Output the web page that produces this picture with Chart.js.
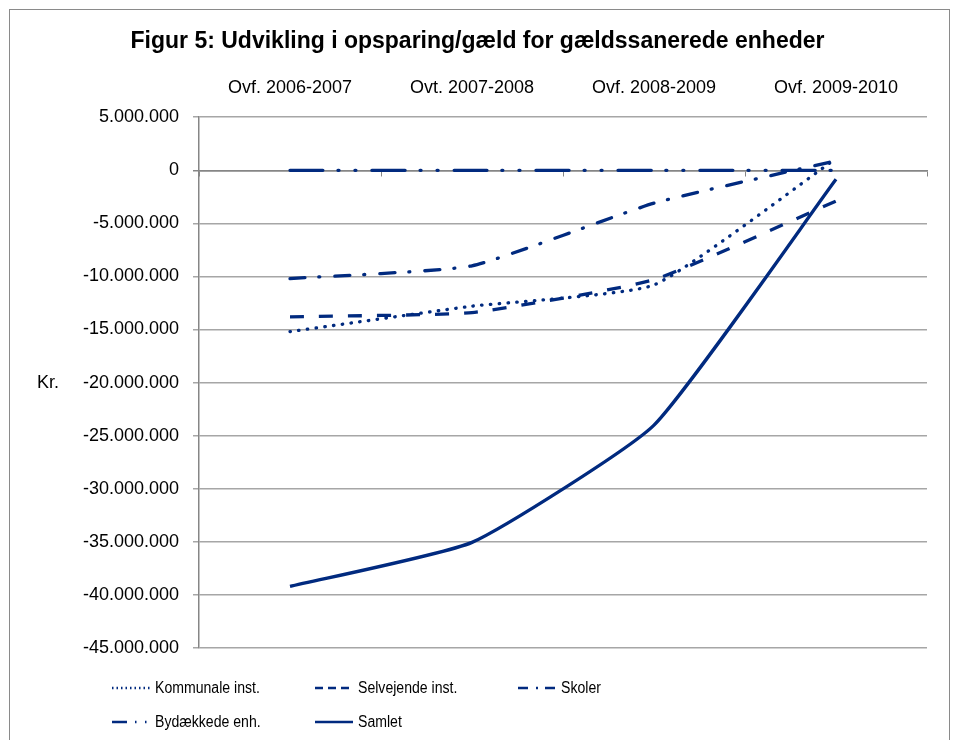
<!DOCTYPE html>
<html>
<head>
<meta charset="utf-8">
<script src="https://cdn.jsdelivr.net/npm/chart.js@4/dist/chart.umd.min.js"></script>
<style>
	body { margin: 0; background: #fff; font-family: 'Liberation Sans', Arial, sans-serif; }
	#wrap { position: relative; width: 955px; height: 740px; overflow: hidden; }
	#ramme { position: absolute; left: 9px; top: 9px; width: 939px; height: 760px; border: 1px solid #8a8a8a; }
	#graf { position: absolute; left: 0; top: 0; }
	#legend { position: absolute; left: 112px; top: 677px; display: grid; grid-template-columns: 203px 203px 203px; row-gap: 12px; font-size: 16px; color: #000; }
	#legend .item { display: flex; align-items: center; height: 22px; white-space: nowrap; }
	#legend svg { margin-right: 5px; }
	#legend span { display: inline-block; transform: scaleX(0.88); transform-origin: left center; }
</style>
</head>
<body>
<div id="wrap">
	<div id="ramme"></div>
	<canvas id="graf" width="955" height="740"></canvas>
	<div id="legend"></div>
</div>
<script>
// Data
const perioder = ['Ovf. 2006-2007', 'Ovt. 2007-2008', 'Ovf. 2008-2009', 'Ovf. 2009-2010'];
const kommunale = [-15200000, -12800000, -10800000, 1100000];
const selvejende = [-13800000, -13400000, -10300000, -2900000];
const skoler = [-10200000, -9000000, -3100000, 900000];
const bydaekkede = [0, 0, 0, 0];
const samlet = [-39200000, -35050000, -24000000, -850000];

const NAVY = '#012a7f';
const FONT = '"Liberation Sans", Arial, sans-serif';

// tal som 5.000.000
function formatKr(v) {
	const s = Math.abs(v).toString().replace(/\B(?=(\d{3})+(?!\d))/g, '.');
	return (v < 0 ? '-' : '') + s;
}

const serier = [
	{ label: 'Kommunale inst.', data: kommunale, dash: [0.5, 8.3], cap: 'round', legDash: '1.5 3' },
	{ label: 'Selvejende inst.', data: selvejende, dash: [14, 15], cap: 'butt', legDash: '8 5' },
	{ label: 'Skoler', data: skoler, dash: [15, 14, 1, 15], cap: 'round', legDash: '10 8 2 7' },
	{ label: 'Bydækkede enh.', data: bydaekkede, dash: [33, 15, 1, 16, 1, 16], cap: 'round', legDash: '15 8 1.5 8.5 1.5 20' },
	{ label: 'Samlet', data: samlet, dash: [], cap: 'butt', legDash: '' },
];

// "Kr." skrives vandret til venstre for y-aksen
const krLabel = {
	id: 'krLabel',
	afterDraw(chart) {
		const ctx = chart.ctx;
		const area = chart.chartArea;
		ctx.save();
		ctx.font = '18px ' + FONT;
		ctx.fillStyle = '#000';
		ctx.textAlign = 'center';
		ctx.textBaseline = 'middle';
		ctx.fillText('Kr.', 48, (area.top + area.bottom) / 2);
		ctx.restore();
	}
};

const graf = document.getElementById('graf');

new Chart(graf, {
	type: 'line',
	data: {
		labels: perioder,
		datasets: serier.map(s => ({
			label: s.label,
			data: s.data,
			borderColor: NAVY,
			backgroundColor: NAVY,
			borderWidth: 3.3,
			borderDash: s.dash,
			borderCapStyle: s.cap,
			pointRadius: 0,
			tension: 0.15,
			fill: false,
		})),
	},
	options: {
		responsive: false,
		animation: false,
		layout: { padding: { left: 9, right: 9, top: 0, bottom: 92 } },
		plugins: {
			legend: { display: false },
			tooltip: { enabled: false },
			title: {
				display: true,
				text: 'Figur 5: Udvikling i opsparing/gæld for gældssanerede enheder',
				color: '#000',
				font: { family: FONT, size: 23, weight: 'bold' },
				padding: { top: 28, bottom: 12 },
			},
		},
		scales: {
			x: {
				type: 'category',
				position: 'top',
				offset: true,
				grid: { display: false },
				border: { display: false },
				ticks: {
					color: '#000',
					font: { family: FONT, size: 18 },
					padding: 10,
					maxRotation: 0,
				},
			},
			x0: {
				type: 'category',
				position: { y: 0 },
				offset: true,
				grid: { display: true, drawOnChartArea: false, drawTicks: true, tickLength: 5, color: '#868686', offset: true },
				border: { display: true, color: '#868686', width: 1.5 },
				ticks: { display: false },
			},
			y: {
				min: -45000000,
				max: 5000000,
				afterFit(scale) { scale.width = 190; },
				ticks: {
					stepSize: 5000000,
					color: '#000',
					font: { family: FONT, size: 18 },
					padding: 14,
					callback: v => formatKr(v),
				},
				grid: {
					color: ctx => (ctx.tick && ctx.tick.value === 0 ? '#868686' : '#a6a6a6'),
					lineWidth: 1.5,
					tickLength: 6,
				},
				border: { display: true, color: '#868686', width: 1.5 },
			},
			// tom højre-akse, giver luft mellem plot og ramme
			yR: {
				position: 'right',
				min: -45000000,
				max: 5000000,
				afterFit(scale) { scale.width = 19; },
				grid: { display: false },
				border: { display: false },
				ticks: { display: false },
			},
		},
	},
	plugins: [krLabel],
});

// Forklaring (legend) som HTML, så kolonnerne står som i originalen
const legend = document.getElementById('legend');
serier.forEach(s => {
	const item = document.createElement('div');
	item.className = 'item';
	const svgNS = 'http://www.w3.org/2000/svg';
	const svg = document.createElementNS(svgNS, 'svg');
	svg.setAttribute('width', '38');
	svg.setAttribute('height', '10');
	const line = document.createElementNS(svgNS, 'line');
	line.setAttribute('x1', '0');
	line.setAttribute('x2', '38');
	line.setAttribute('y1', '5');
	line.setAttribute('y2', '5');
	line.setAttribute('stroke', NAVY);
	line.setAttribute('stroke-width', '2.5');
	if (s.legDash) line.setAttribute('stroke-dasharray', s.legDash);
	svg.appendChild(line);
	const txt = document.createElement('span');
	txt.textContent = s.label;
	item.appendChild(svg);
	item.appendChild(txt);
	legend.appendChild(item);
});
</script>
</body>
</html>
